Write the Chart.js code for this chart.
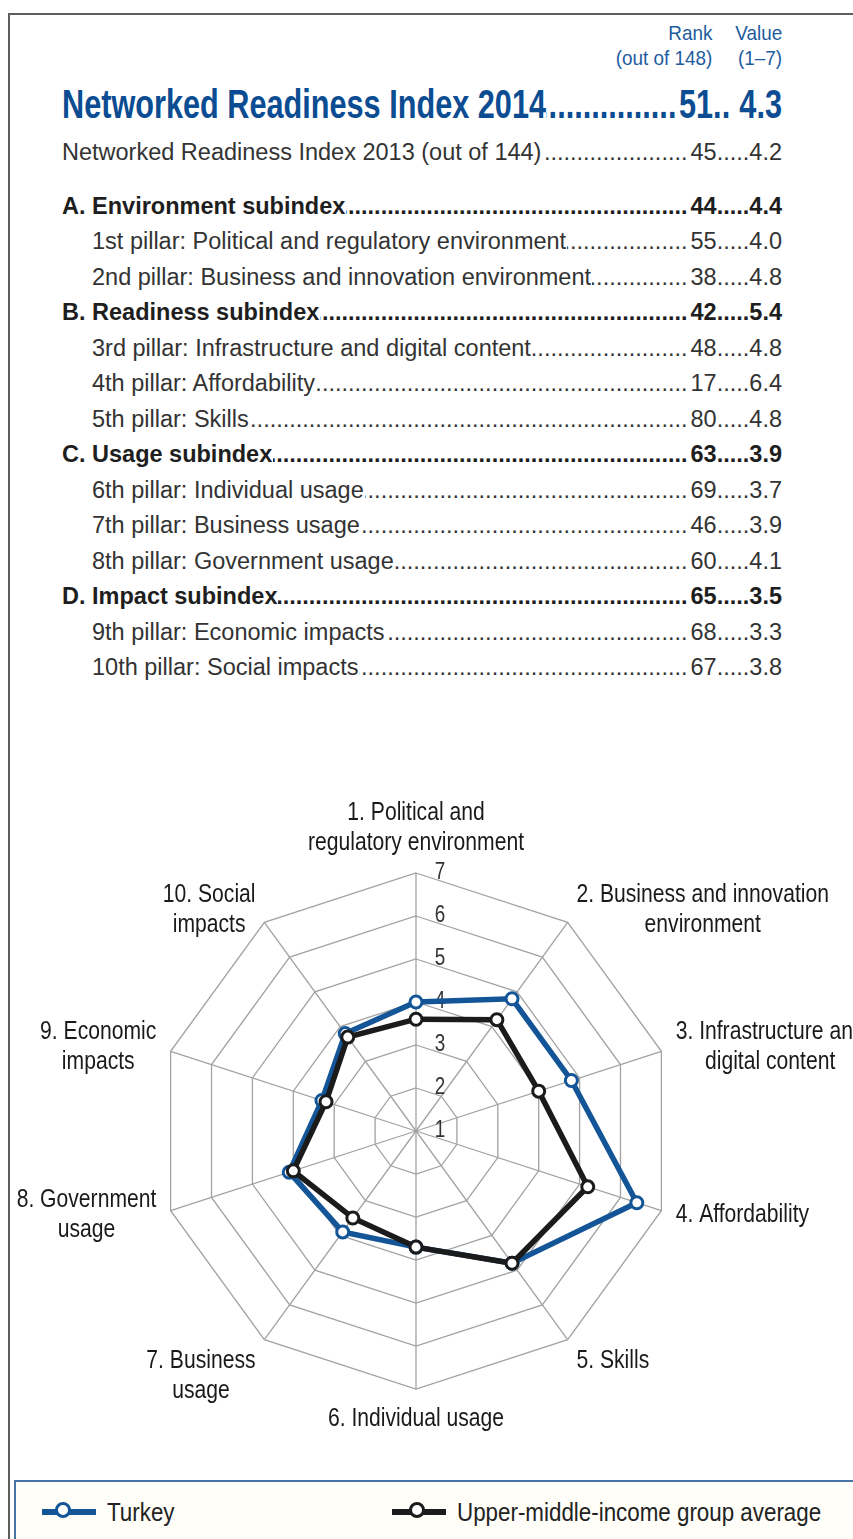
<!DOCTYPE html>
<html>
<head>
<meta charset="utf-8">
<script src="https://cdn.jsdelivr.net/npm/chart.js@4.4.1/dist/chart.umd.min.js"></script>
<style>
  html, body { margin: 0; padding: 0; background: #fff; }
  body { width: 853px; height: 1539px; position: relative; overflow: hidden;
         font-family: "Liberation Sans", Arial, sans-serif; color: #333; }
  #frame { position: absolute; left: 8px; top: 13px; right: -10px; bottom: -10px;
           border-top: 2px solid #5e5e5e; border-left: 2px solid #5e5e5e; }
  .hdr { position: absolute; top: 20px; font-size: 21px; line-height: 25px; color: #1d5c9e;
         text-align: right; white-space: nowrap; transform: scaleX(0.9); transform-origin: right top; }
  .row { position: absolute; display: flex; align-items: baseline; white-space: nowrap;
         font-size: 23.5px; line-height: 28px; }
  .row.bold { font-weight: bold; color: #1e1e1e; }
  .dots { flex: 1 1 auto; min-width: 0; overflow: hidden; direction: rtl; margin: 0 3px 0 1px; }
  #title { position: absolute; left: 62px; top: 81px; height: 46px; display: flex; align-items: baseline;
           white-space: nowrap; font-size: 40px; line-height: 46px; font-weight: bold; color: #0b4c92;
           transform-origin: left top; }
  #chartBox { position: absolute; left: 0; top: 780px; width: 853px; height: 680px; }
  #legend { position: absolute; left: 14px; top: 1480px; width: 860px; height: 100px;
            border: 2px solid #4873a6; background: #fffef8; }
  .lg { position: absolute; top: 0; height: 60px; }
  .lgLine { position: absolute; height: 6px; top: 27px; }
  .lgDot { position: absolute; width: 10px; height: 10px; top: 20px; border-radius: 50%;
           background: #fff; border-style: solid; border-width: 3.5px; }
  .lgText { position: absolute; top: 14px; font-size: 26px; line-height: 32px; color: #222;
            white-space: nowrap; transform: scaleX(0.86); transform-origin: left top; }
</style>
</head>
<body>
<div id="frame"></div>
<div class="hdr" style="right:141px">Rank<br>(out of 148)</div>
<div class="hdr" style="right:71px">Value<br>(1–7)</div>
<div id="title"></div>
<div id="rows"></div>
<div id="chartBox"><canvas id="radar"></canvas></div>
<div id="legend"></div>

<script>
// summary table
const titleLabel = "Networked Readiness Index 2014";
const titleRank = 51;
const titleValue = "4.3";

const rowLabels = [
  "Networked Readiness Index 2013 (out of 144)",
  "A. Environment subindex",
  "1st pillar: Political and regulatory environment",
  "2nd pillar: Business and innovation environment",
  "B. Readiness subindex",
  "3rd pillar: Infrastructure and digital content",
  "4th pillar: Affordability",
  "5th pillar: Skills",
  "C. Usage subindex",
  "6th pillar: Individual usage",
  "7th pillar: Business usage",
  "8th pillar: Government usage",
  "D. Impact subindex",
  "9th pillar: Economic impacts",
  "10th pillar: Social impacts"
];
const rowRanks = [45, 44, 55, 38, 42, 48, 17, 80, 63, 69, 46, 60, 65, 68, 67];
const rowValues = ["4.2", "4.4", "4.0", "4.8", "5.4", "4.8", "6.4", "4.8", "3.9", "3.7", "3.9", "4.1", "3.5", "3.3", "3.8"];
// 0 = previous edition, 1 = subindex, 2 = pillar
const rowLevels = [0, 1, 2, 2, 1, 2, 2, 2, 1, 2, 2, 2, 1, 2, 2];

// radar chart
const pillarLabels = [
  ["1. Political and", "regulatory environment"],
  ["2. Business and innovation", "environment"],
  ["3. Infrastructure and", "digital content"],
  ["4. Affordability"],
  ["5. Skills"],
  ["6. Individual usage"],
  ["7. Business", "usage"],
  ["8. Government", "usage"],
  ["9. Economic", "impacts"],
  ["10. Social", "impacts"]
];
const turkeyScores = [4.0, 4.8, 4.8, 6.4, 4.8, 3.7, 3.9, 4.1, 3.3, 3.8];
const groupAverage = [3.6, 4.2, 4.0, 5.2, 4.8, 3.7, 3.5, 4.0, 3.2, 3.7];
const scaleTicks = [1, 2, 3, 4, 5, 6, 7];

const seriesNames = ["Turkey", "Upper-middle-income group average"];
const seriesColors = ["#135597", "#1b1b1b"];

function dotSpan(n) {
  let s = document.createElement("span");
  s.className = "dots";
  s.textContent = ".".repeat(n);
  return s;
}

function span(text) {
  let s = document.createElement("span");
  s.textContent = text;
  return s;
}

// title row, condensed to the width of the original
let title = document.getElementById("title");
let titleText = span(titleLabel);
title.appendChild(titleText);
title.appendChild(dotSpan(80));
title.appendChild(span(titleRank));
title.appendChild(span(".."));
let tv = span(titleValue);
tv.style.marginLeft = "12px";
title.appendChild(tv);
let tf = 484 / titleText.getBoundingClientRect().width;
title.style.width = (720 / tf) + "px";
title.style.transform = "scaleX(" + tf + ")";

let rows = document.getElementById("rows");
rowLabels.forEach((label, k) => {
  let row = document.createElement("div");
  row.className = "row" + (rowLevels[k] === 1 ? " bold" : "");
  let left = rowLevels[k] === 2 ? 92 : 62;
  let center = k === 0 ? 152 : 206 + (k - 1) * 35.46;
  row.style.left = left + "px";
  row.style.width = (782 - left) + "px";
  row.style.top = (center - 14) + "px";
  row.appendChild(span(label));
  row.appendChild(dotSpan(120));
  row.appendChild(span(rowRanks[k]));
  row.appendChild(span("....."));
  row.appendChild(span(rowValues[k]));
  rows.appendChild(row);
});

// legend
let legend = document.getElementById("legend");
const legendX = [26, 376];
seriesNames.forEach((name, i) => {
  let g = document.createElement("div");
  g.className = "lg";
  g.style.left = legendX[i] + "px";
  let line = document.createElement("div");
  line.className = "lgLine";
  line.style.left = "0px";
  line.style.width = "54px";
  line.style.background = seriesColors[i];
  let dot = document.createElement("div");
  dot.className = "lgDot";
  dot.style.left = (i === 0 ? 13 : 17) + "px";
  dot.style.borderColor = seriesColors[i];
  let txt = document.createElement("div");
  txt.className = "lgText";
  txt.style.left = "65px";
  txt.textContent = name;
  g.appendChild(line);
  g.appendChild(dot);
  g.appendChild(txt);
  legend.appendChild(g);
});

const labelFont = '25px "Liberation Sans", Arial, sans-serif';
const condense = 0.845;

function drawCond(ctx, text, x, y, f) {
  ctx.save();
  ctx.translate(x, y);
  ctx.scale(f, 1);
  ctx.fillText(text, 0, 0);
  ctx.restore();
}

const radarText = {
  id: "radarText",
  beforeDatasetsDraw(chart) {
    let s = chart.scales.r;
    let ctx = chart.ctx;
    ctx.save();
    ctx.font = '23px "Liberation Sans", Arial, sans-serif';
    ctx.fillStyle = "#333";
    ctx.textAlign = "center";
    ctx.textBaseline = "middle";
    s.ticks.forEach(t => {
      let p = s.getPointPositionForValue(0, t.value);
      drawCond(ctx, String(t.value), p.x + 24, p.y, 0.82);
    });
    ctx.restore();
  },
  afterDraw(chart) {
    let s = chart.scales.r;
    let ctx = chart.ctx;
    ctx.save();
    ctx.font = labelFont;
    ctx.fillStyle = "#1a1a1a";
    ctx.textAlign = "center";
    ctx.textBaseline = "middle";
    const lh = 30;
    pillarLabels.forEach((lines, i) => {
      let a = i * 2 * Math.PI / pillarLabels.length;
      let sin = Math.sin(a), cos = Math.cos(a);
      let p = s.getPointPosition(i, s.drawingArea + 15);
      let w = Math.max(...lines.map(l => ctx.measureText(l).width)) * condense;
      let h = lines.length * lh;
      let cx = p.x;
      if (sin > 0.01) cx = p.x + w / 2;
      else if (sin < -0.01) cx = p.x - w / 2;
      let top;
      if (cos > 0.99) top = p.y - h;
      else if (cos < -0.99) top = p.y;
      else if (cos < -0.5) top = p.y - 6;
      else top = p.y - h / 2;
      lines.forEach((l, k) => drawCond(ctx, l, cx, top + lh * k + lh / 2, condense));
    });
    ctx.restore();
  }
};

let ctx = document.getElementById("radar").getContext("2d");
let radar = new Chart(ctx, {
  type: "radar",
  data: {
    labels: pillarLabels,
    datasets: [{
      label: seriesNames[0],
      data: turkeyScores,
      borderColor: seriesColors[0],
      pointBorderColor: seriesColors[0],
      borderWidth: 5.5,
      pointRadius: 6,
      pointBorderWidth: 3,
      pointBackgroundColor: "#fff",
      order: 2
    }, {
      label: seriesNames[1],
      data: groupAverage,
      borderColor: seriesColors[1],
      pointBorderColor: seriesColors[1],
      borderWidth: 5.5,
      pointRadius: 6,
      pointBorderWidth: 3,
      pointBackgroundColor: "#fff",
      order: 1
    }]
  },
  options: {
    responsive: true,
    maintainAspectRatio: false,
    animation: false,
    layout: { padding: { top: 93, bottom: 71, left: 158, right: 179 } },
    elements: { line: { tension: 0, fill: false } },
    plugins: { legend: { display: false }, tooltip: { enabled: false } },
    scales: {
      r: {
        min: 1,
        max: 7,
        afterBuildTicks: scale => { scale.ticks = scaleTicks.map(v => ({ value: v })); },
        ticks: { display: false, stepSize: 1 },
        grid: { color: "#a2a2a2", lineWidth: 1.3 },
        angleLines: { color: "#a2a2a2", lineWidth: 1.3 },
        pointLabels: { display: false }
      }
    }
  },
  plugins: [radarText]
});
</script>
</body>
</html>
